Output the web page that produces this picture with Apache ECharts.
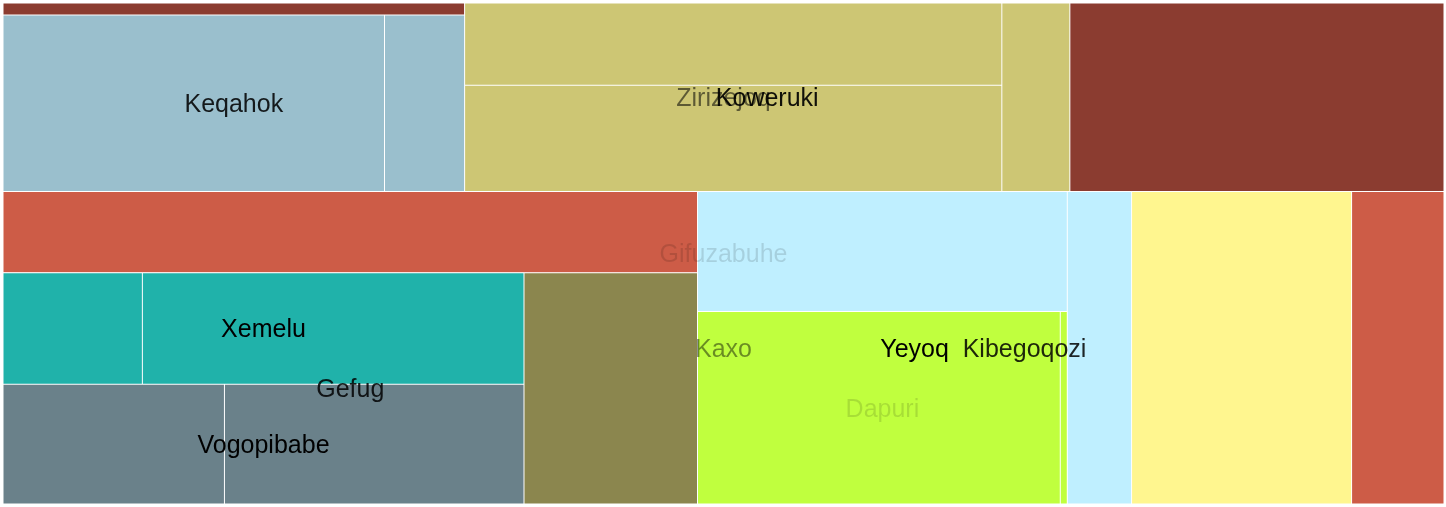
<!DOCTYPE html>
<html>
<head>
<meta charset="utf-8">
<script src="https://cdn.jsdelivr.net/npm/echarts@6/dist/echarts.min.js"></script>
<style>
  html, body { margin: 0; padding: 0; background: #ffffff; }
  #chart { width: 1446px; height: 507px; }
</style>
</head>
<body>
<div id="chart"></div>
<script>
// ---- DATA (depth-first order; '' = unnamed leaf) ----
const nodeNames = ['Gifuzabuhe', 'Zirizejoq', '', 'Keqahok', '', '', 'Koweruki', '', '', '', '',
  'Kaxo', '', 'Gefug', 'Xemelu', '', '', 'Vogopibabe', '', '', '', 'Kibegoqozi', 'Yeyoq', '',
  'Dapuri', '', '', '', '', ''];
const nodeParents = [-1, 0, 1, 1, 3, 3, 1, 6, 6, 6, 1,
  0, 11, 11, 13, 14, 14, 13, 17, 17, 13, 11, 21, 22,
  22, 24, 24, 22, 21, 11];
const nodeValues = [null, null, 5560, null, 67100, 14090, null, 44034, 56922, 12784, 70312,
  null, 56300, null, null, 15500, 42440, null, 26420, 35740, 40000, null, null, 44250,
  null, 69620, 1346, 20032, 68550, 28796];

// ---- STYLES ----
const leafColors = [null, null, '#8B3C30', null, '#9ABFCD', '#9ABFCD', null, '#CDC674', '#CDC674', '#CDC674', '#8B3C30',
  null, '#CD5C47', null, null, '#20B2AA', '#20B2AA', null, '#6A818A', '#6A818A', '#8B864E', null, null, '#BFEFFF',
  null, '#C0FF3E', '#C0FF3E', '#BFEFFF', '#FFF68F', '#CD5C47'];
const labelAlpha = [0.13, 0.55, null, 0.87, null, null, 0.92, null, null, null, null,
  0.45, null, 0.85, 1, null, null, 1, null, null, null, 0.85, 1, null,
  0.13, null, null, null, null, null];

function buildTree(paint) {
  const nodes = nodeNames.map(function (name, i) {
    const isGroup = nodeValues[i] == null;
    const n = { id: 'n' + i, name: name || ('leaf' + i) };
    if (!isGroup) n.value = nodeValues[i];
    else n.children = [];
    if (paint) {
      n.itemStyle = isGroup
        ? { color: '#ffffff', borderWidth: 0, borderColor: '#ffffff' }
        : { color: leafColors[i], borderWidth: 0.5, borderColor: '#ffffff' };
      n.label = { show: false };
    } else {
      n.itemStyle = { color: 'rgba(0,0,0,0)', borderWidth: 0, borderColor: 'rgba(0,0,0,0)' };
      n.label = isGroup
        ? { show: true, color: 'rgba(0,0,0,' + labelAlpha[i] + ')', fontSize: 25,
            fontFamily: 'Liberation Sans, Arial, sans-serif', position: 'inside', padding: 0,
            offset: [0, 2] }
        : { show: false };
    }
    return n;
  });
  nodes.forEach(function (n, i) {
    if (nodeParents[i] >= 0) nodes[nodeParents[i]].children.push(n);
  });
  return [nodes[0]];
}

function makeSeries(paint, leafDepth) {
  const s = {
    type: 'treemap',
    left: 3, top: 3, width: 1441, height: 501,
    sort: false,
    squareRatio: 2.905,
    roam: false,
    nodeClick: false,
    silent: true,
    animation: false,
    drillDownIcon: '',
    breadcrumb: { show: false },
    visibleMin: 1,
    z: paint ? 2 : 10 + leafDepth,
    itemStyle: { borderWidth: 0, gapWidth: 0, borderColor: paint ? '#ffffff' : 'rgba(0,0,0,0)' },
    upperLabel: { show: false },
    data: buildTree(paint)
  };
  if (leafDepth != null) s.leafDepth = leafDepth;
  return s;
}

const series = [makeSeries(true, null)];
[1, 2, 3, 4, 5].forEach(function (d) { series.push(makeSeries(false, d)); });

const chart = echarts.init(document.getElementById('chart'), null, { renderer: 'canvas' });
chart.setOption({
  animation: false,
  backgroundColor: '#ffffff',
  tooltip: { show: false },
  series: series
});
</script>
</body>
</html>
